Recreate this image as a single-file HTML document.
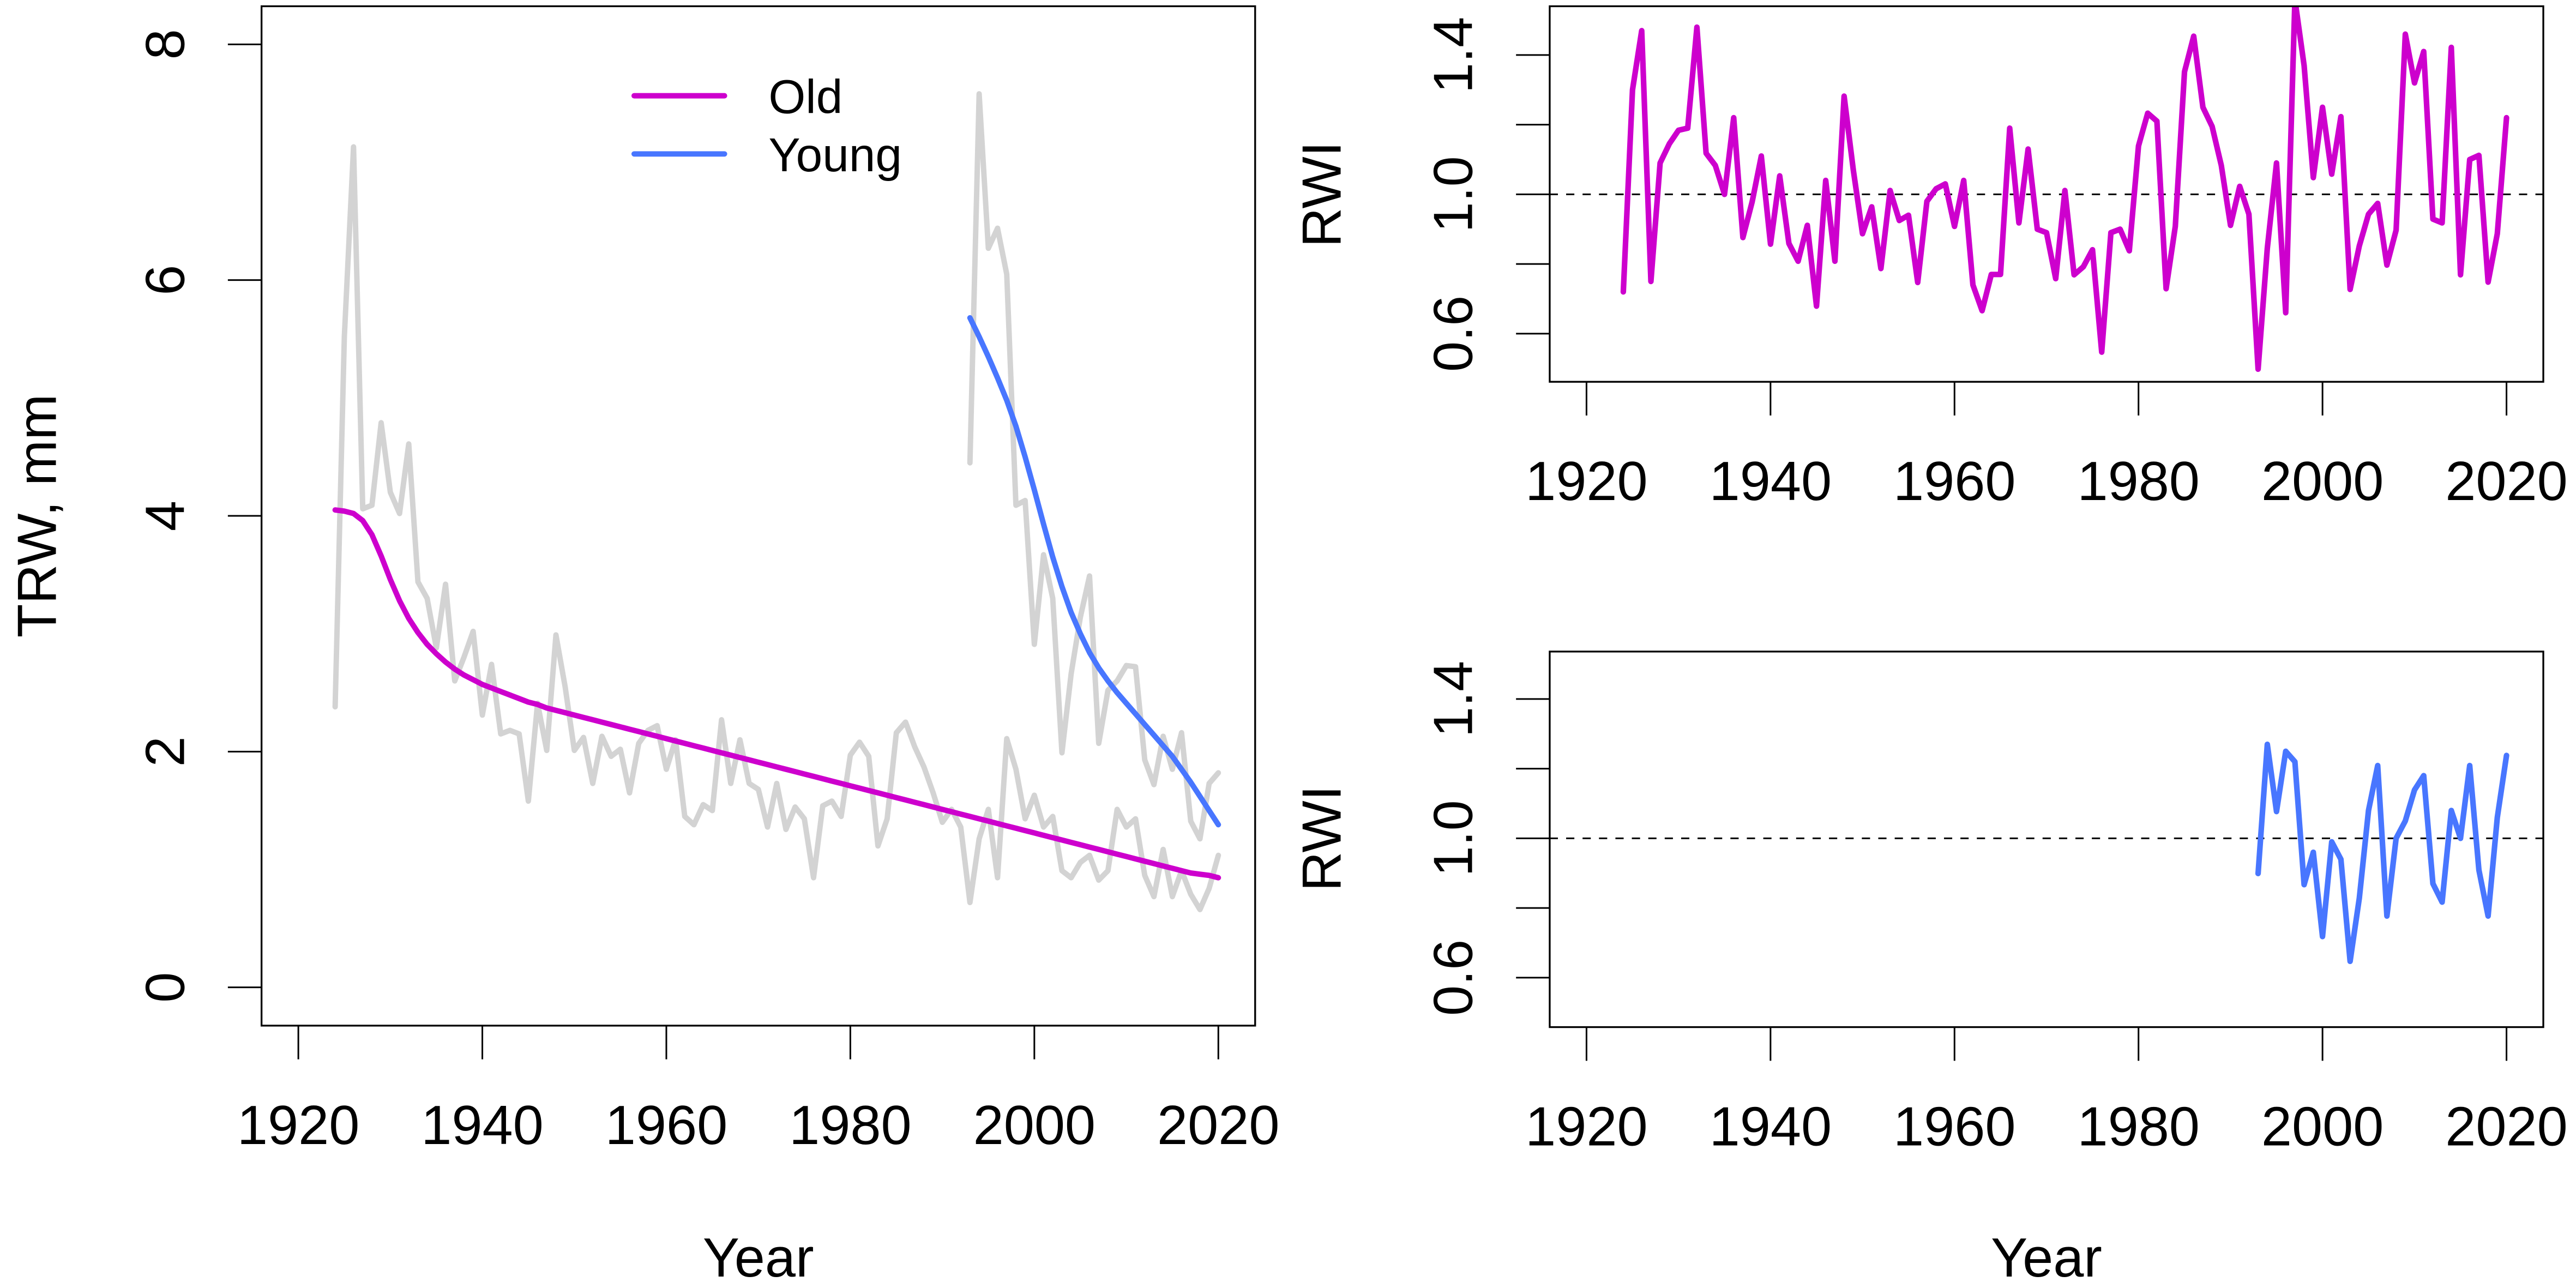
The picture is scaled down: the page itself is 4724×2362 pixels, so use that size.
<!DOCTYPE html>
<html><head><meta charset="utf-8"><style>html,body{margin:0;padding:0;background:#fff}svg{display:block}text{font-family:"Liberation Sans",Arial,sans-serif;fill:#000}</style></head>
<body>
<svg id="fig" xmlns="http://www.w3.org/2000/svg" width="4724" height="2362" viewBox="0 0 1568 784">
<rect x="0" y="0" width="1568" height="784" fill="#fff"/>
<defs>
<clipPath id="clipL"><rect x="159.2" y="3.8" width="604.8" height="620.5"/></clipPath>
<clipPath id="clipT"><rect x="943.3" y="3.8" width="604.8" height="228.6"/></clipPath>
<clipPath id="clipB"><rect x="943.3" y="396.6" width="604.8" height="228.6"/></clipPath>
</defs>
<g id="root"></g>
</svg>
<script>
// ---- data ----
const oldYearStart = 1924;
const youngYearStart = 1993;
const oldTRW = [2.38,5.52,7.13,4.06,4.09,4.79,4.20,4.02,4.61,3.44,3.30,2.88,3.42,2.60,2.80,3.02,2.31,2.74,2.15,2.18,2.15,1.58,2.41,2.01,2.99,2.55,2.01,2.12,1.73,2.13,1.96,2.02,1.65,2.07,2.18,2.22,1.85,2.10,1.45,1.38,1.55,1.50,2.27,1.73,2.10,1.73,1.68,1.36,1.73,1.34,1.53,1.43,0.93,1.54,1.58,1.45,1.97,2.08,1.96,1.20,1.43,2.16,2.25,2.04,1.87,1.65,1.40,1.51,1.36,0.72,1.26,1.51,0.93,2.11,1.85,1.43,1.63,1.36,1.45,0.99,0.93,1.06,1.12,0.91,0.99,1.51,1.36,1.43,0.95,0.77,1.17,0.77,0.99,0.79,0.66,0.84,1.12];
const oldSpline = [4.05,4.04,4.02,3.96,3.84,3.66,3.46,3.28,3.13,3.01,2.91,2.83,2.76,2.70,2.65,2.61,2.57,2.54,2.51,2.48,2.45,2.42,2.40,2.37,2.35,2.33,2.31,2.29,2.27,2.25,2.23,2.21,2.19,2.17,2.15,2.13,2.11,2.09,2.07,2.05,2.03,2.01,1.99,1.97,1.95,1.93,1.91,1.89,1.87,1.85,1.83,1.81,1.79,1.77,1.75,1.73,1.71,1.69,1.67,1.65,1.63,1.61,1.59,1.57,1.55,1.53,1.51,1.49,1.47,1.45,1.43,1.41,1.39,1.37,1.35,1.33,1.31,1.29,1.27,1.25,1.23,1.21,1.19,1.17,1.15,1.13,1.11,1.09,1.07,1.05,1.03,1.01,0.99,0.97,0.96,0.95,0.93];
const youngTRW = [4.45,7.58,6.27,6.44,6.05,4.09,4.13,2.91,3.67,3.30,1.99,2.66,3.14,3.49,2.07,2.52,2.60,2.73,2.72,1.93,1.72,2.13,1.85,2.16,1.41,1.26,1.73,1.82];
const youngSpline = [5.68,5.52,5.35,5.17,4.98,4.76,4.50,4.22,3.93,3.65,3.40,3.18,3.00,2.84,2.71,2.60,2.50,2.41,2.32,2.23,2.14,2.05,1.96,1.85,1.74,1.62,1.50,1.38];
const oldRWI = [0.72,1.30,1.47,0.75,1.09,1.145,1.184,1.19,1.48,1.118,1.083,1.0,1.22,0.876,0.978,1.11,0.857,1.053,0.859,0.808,0.911,0.679,1.04,0.808,1.282,1.07,0.887,0.964,0.787,1.011,0.925,0.94,0.747,0.98,1.016,1.03,0.908,1.04,0.74,0.666,0.77,0.77,1.19,0.918,1.13,0.90,0.89,0.758,1.011,0.769,0.792,0.841,0.547,0.89,0.90,0.838,1.139,1.233,1.21,0.729,0.908,1.352,1.454,1.25,1.195,1.083,0.911,1.023,0.943,0.498,0.845,1.09,0.66,1.56,1.37,1.048,1.25,1.058,1.223,0.727,0.852,0.943,0.974,0.797,0.897,1.46,1.32,1.41,0.929,0.918,1.422,0.769,1.10,1.112,0.748,0.887,1.22];
const youngRWI = [0.899,1.27,1.077,1.25,1.22,0.867,0.96,0.718,0.99,0.94,0.647,0.828,1.08,1.209,0.777,1.0,1.05,1.139,1.18,0.87,0.817,1.08,1.0,1.209,0.909,0.777,1.06,1.238];
const yearTicks = [1920,1940,1960,1980,2000,2020];
const trwTicks = [0,2,4,6,8];
const rwiTicks = [0.6,0.8,1.0,1.2,1.4];
const rwiLabels = ["0.6","","1.0","","1.4"];
const legendLabels = ["Old","Young"];

// ---- layout ----
const NS="http://www.w3.org/2000/svg";
const root=document.getElementById('root');
const MAG="#CD00CD", BLUE="#4876FF", GREY="#D3D3D3", FS=33.5, LFS=29;
function el(tag,attrs,parent){const e=document.createElementNS(NS,tag);for(const k in attrs)e.setAttribute(k,attrs[k]);(parent||root).appendChild(e);return e;}
const X0=159.2;
const xL = y => 181.6 + (y-1920)*5.6;
const xR = y => 965.7 + (y-1920)*5.6;
const yTRW = v => 601 - v*71.75;
const yTop = v => 118.3 - (v-1.0)*212;
const yBot = v => 510.3 - (v-1.0)*212;
function pathOf(vals,start,xf,yf){return vals.map((v,i)=>(i?'L':'M')+xf(start+i).toFixed(2)+' '+yf(v).toFixed(2)).join(' ');}

function xAxis(xf,boxBottom,name){
  const g=el('g',{});
  
  
  yearTicks.forEach(t=>{
    const l=el('line',{x1:xf(t),x2:xf(t),y1:boxBottom,y2:boxBottom+20.5,stroke:'#000','stroke-width':1},g);
    
    
    const tx=el('text',{x:xf(t),y:boxBottom+72,'font-size':FS,'text-anchor':'middle'},g);
    
    
    tx.textContent=t;
  });
}
function yAxis(vals,labels,yf,boxLeft,labelX,name){
  const g=el('g',{});
  
  
  vals.forEach((v,i)=>{
    const l=el('line',{x1:boxLeft-20.5,x2:boxLeft,y1:yf(v),y2:yf(v),stroke:'#000','stroke-width':1},g);
    
    
    if(labels[i]!==""){
      const tx=el('text',{x:labelX,y:yf(v),'font-size':FS,'text-anchor':'middle',transform:`rotate(-90 ${labelX} ${yf(v)})`,dy:'0.36em'},g);
      
      
      tx.textContent=labels[i];
    }
  });
}
function box(x,y,w,h,name){const r=el('rect',{x:x,y:y,width:w,height:h,fill:'none',stroke:'#000','stroke-width':1.1});
  
  }
function title(txt,x,y,rot,name){const t=el('text',{x:x,y:y,'font-size':FS,'text-anchor':'middle',transform:rot?`rotate(-90 ${x} ${y})`:''});
  
  
  t.textContent=txt;}

// ---- left panel ----
const gl=el('g',{'clip-path':'url(#clipL)'});


const p1=el('path',{d:pathOf(oldTRW,oldYearStart,xL,yTRW),fill:'none',stroke:GREY,'stroke-width':3.3,'stroke-linejoin':'round','stroke-linecap':'round'},gl);


const p2=el('path',{d:pathOf(youngTRW,youngYearStart,xL,yTRW),fill:'none',stroke:GREY,'stroke-width':3.3,'stroke-linejoin':'round','stroke-linecap':'round'},gl);


const p3=el('path',{d:pathOf(oldSpline,oldYearStart,xL,yTRW),fill:'none',stroke:MAG,'stroke-width':3.3,'stroke-linejoin':'round','stroke-linecap':'round'},gl);


const p4=el('path',{d:pathOf(youngSpline,youngYearStart,xL,yTRW),fill:'none',stroke:BLUE,'stroke-width':3.3,'stroke-linejoin':'round','stroke-linecap':'round'},gl);


box(X0,3.8,604.8,620.5,'trw-plot-frame');
xAxis(xL,624.3,'trw-x-axis');
yAxis(trwTicks,trwTicks.map(String),yTRW,X0,100,'trw-y-axis');
title('Year',461.6,777,false,'trw-x-axis-title');
title('TRW, mm',34,314,true,'trw-y-axis-title');
// legend
const lg=el('g',{});


[MAG,BLUE].forEach((c,i)=>{
  const yy=[58.3,93.7][i];
  const l=el('line',{x1:386,x2:441,y1:yy,y2:yy,stroke:c,'stroke-width':3.3,'stroke-linecap':'round'},lg);
  
  
  const t=el('text',{x:467.8,y:yy+10.5,'font-size':LFS},lg);
  
  
  t.textContent=legendLabels[i];
});

// ---- top right ----
const gt=el('g',{'clip-path':'url(#clipT)'});


const d1=el('line',{x1:943.3,x2:1548.1,y1:yTop(1),y2:yTop(1),stroke:'#000','stroke-width':1,'stroke-dasharray':'5 5'},gt);


const p5=el('path',{d:pathOf(oldRWI,oldYearStart,xR,yTop),fill:'none',stroke:MAG,'stroke-width':3.4,'stroke-linejoin':'round','stroke-linecap':'round'},gt);


box(943.3,3.8,604.8,228.6,'old-rwi-frame');
xAxis(xR,232.4,'old-rwi-x-axis');
yAxis(rwiTicks,rwiLabels,yTop,943.3,884,'old-rwi-y-axis');
title('RWI',816,118.3,true,'old-rwi-y-axis-title');

// ---- bottom right ----
const gb=el('g',{'clip-path':'url(#clipB)'});


const d2=el('line',{x1:943.3,x2:1548.1,y1:yBot(1),y2:yBot(1),stroke:'#000','stroke-width':1,'stroke-dasharray':'5 5'},gb);


const p6=el('path',{d:pathOf(youngRWI,youngYearStart,xR,yBot),fill:'none',stroke:BLUE,'stroke-width':3.4,'stroke-linejoin':'round','stroke-linecap':'round'},gb);


box(943.3,396.6,604.8,228.6,'young-rwi-frame');
xAxis(xR,625.2,'young-rwi-x-axis');
yAxis(rwiTicks,rwiLabels,yBot,943.3,884,'young-rwi-y-axis');
title('RWI',816,510.3,true,'young-rwi-y-axis-title');
title('Year',1245.7,777,false,'young-rwi-x-axis-title');
</script>
</body></html>
